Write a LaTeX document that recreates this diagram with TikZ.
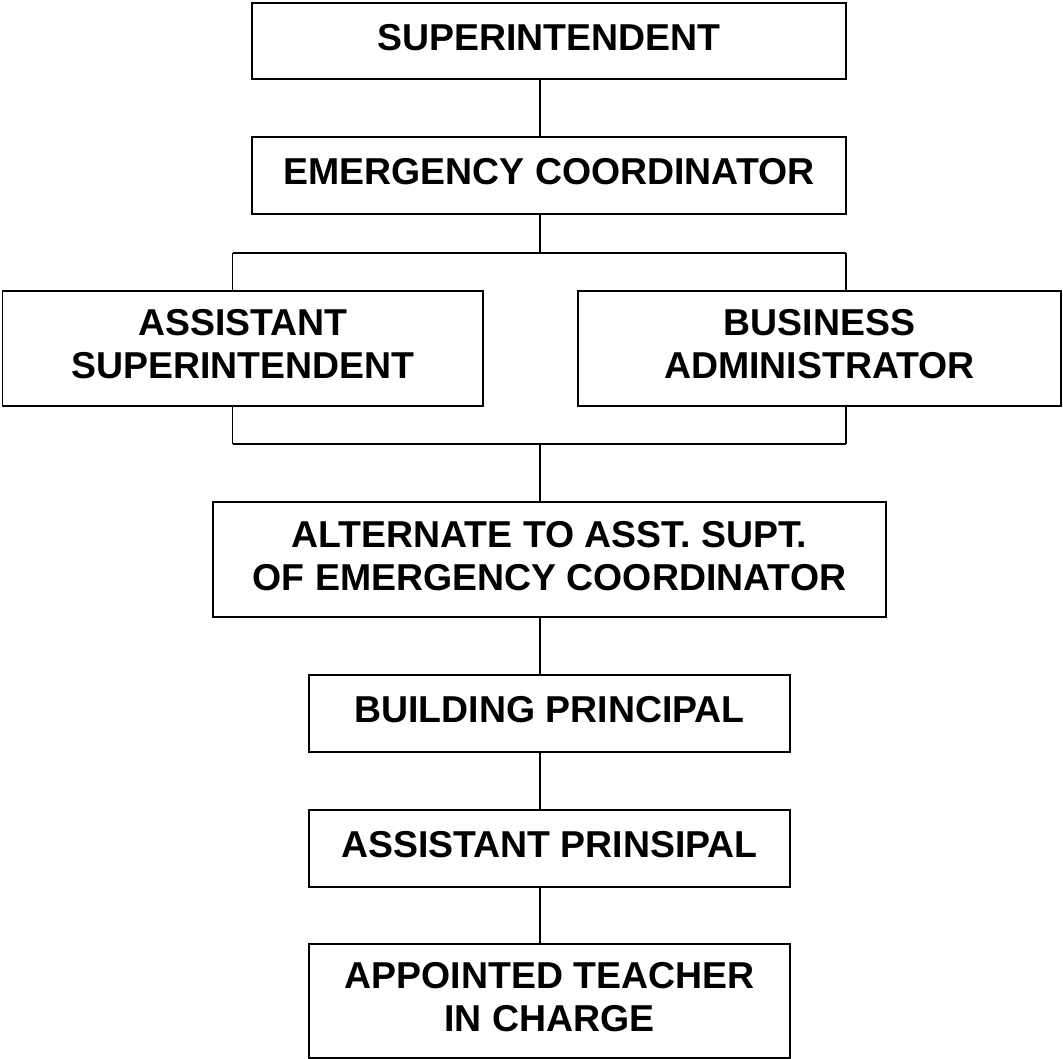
\documentclass[tikz,border=0pt]{standalone}
\usepackage{fontspec}
\setmainfont{Liberation Sans}

\begin{document}
\begin{tikzpicture}[x=0.02cm, y=-0.02cm,
        box/.style={draw, line width=0.9pt, inner sep=0pt, align=center,
          font=\bfseries\fontsize{21.3}{24.5}\selectfont, text depth=0.16cm},
        every path/.style={line width=0.9pt}]
              \useasboundingbox (0, 0) rectangle (1063, 1059);

              \node [box, minimum width=11.88cm, minimum height=1.52cm] (super) at (549, 41) {SUPERINTENDENT};
              \node [box, minimum width=11.88cm, minimum height=1.54cm] (coord) at (549, 175.5) {EMERGENCY COORDINATOR};
              \node [box, minimum width=9.61cm, minimum height=2.3cm] (assist) at (242.75, 348.25) {ASSISTANT\\SUPERINTENDENT};
              \node [box, minimum width=9.66cm, minimum height=2.3cm] (business) at (819.5, 348.25) {BUSINESS\\ADMINISTRATOR};
              \node [box, minimum width=13.46cm, minimum height=2.3cm] (alternate) at (549.5, 559.5) {ALTERNATE TO ASST. SUPT.\\OF EMERGENCY COORDINATOR};
              \node [box, minimum width=9.62cm, minimum height=1.54cm] (principal) at (549.5, 713.5) {BUILDING PRINCIPAL};
              \node [box, minimum width=9.62cm, minimum height=1.54cm] (assprin) at (549.5, 848.5) {ASSISTANT PRINSIPAL};
              \node [box, minimum width=9.62cm, minimum height=2.28cm] (teacher) at (549.5, 1001) {APPOINTED TEACHER\\IN CHARGE};

              \coordinate (giunto1) at (540, 253);
              \coordinate (sinistra1) at (232.5, 253);
              \coordinate (destra1) at (846, 253);
              \coordinate (giunto2) at (540, 444);
              \coordinate (sinistra2) at (232.5, 444);
              \coordinate (destra2) at (846, 444);

              \draw (super.south -| giunto1) -- (coord.north -| giunto1);
              \draw (coord.south -| giunto1) -- (giunto1);
              \draw (sinistra1) -- (destra1);
              \draw (sinistra1) -- (sinistra1 |- assist.north);
              \draw (destra1) -- (destra1 |- business.north);
              \draw (sinistra2) -- (sinistra2 |- assist.south);
              \draw (destra2) -- (destra2 |- business.south);
              \draw (sinistra2) -- (destra2);
              \draw (giunto2) -- (giunto2 |- alternate.north);
              \draw (alternate.south -| giunto2) -- (principal.north -| giunto2);
              \draw (principal.south -| giunto2) -- (assprin.north -| giunto2);
              \draw (assprin.south -| giunto2) -- (teacher.north -| giunto2);

            \end{tikzpicture}
\end{document}
